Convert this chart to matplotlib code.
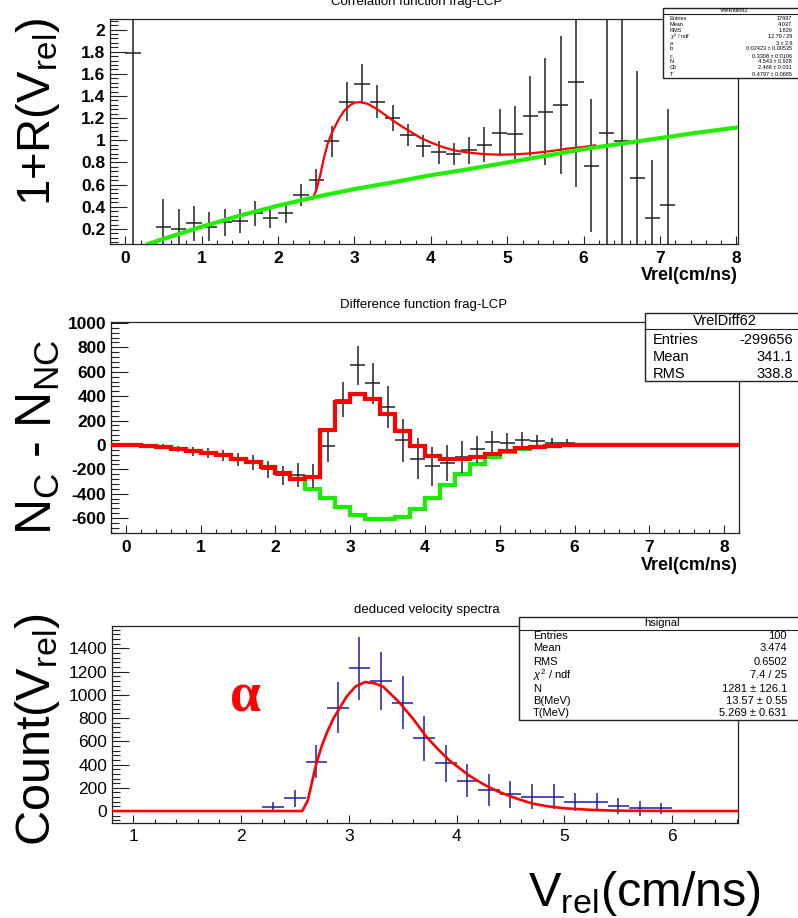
import numpy as np
import matplotlib
matplotlib.use("Agg")
import matplotlib.pyplot as plt
from matplotlib.patches import Rectangle
from matplotlib.lines import Line2D

plt.rcParams['font.family'] = ['Liberation Sans', 'DejaVu Sans']
plt.rcParams['mathtext.fontset'] = 'custom'
plt.rcParams['mathtext.rm'] = 'Liberation Sans'
plt.rcParams['mathtext.it'] = 'Liberation Sans:italic'
plt.rcParams['mathtext.bf'] = 'Liberation Sans:bold'
plt.rcParams['axes.unicode_minus'] = False

# ---- panel 1: correlation function ----
corr_x = [0.1, 0.5, 0.7, 0.9, 1.1, 1.3, 1.5, 1.7, 1.9, 2.1, 2.3, 2.5, 2.7, 2.9, 3.1, 3.3, 3.5,
          3.7, 3.9, 4.1, 4.3, 4.5, 4.7, 4.9, 5.1, 5.3, 5.5, 5.7, 5.9, 6.1, 6.3, 6.5, 6.7, 6.9, 7.1]
corr_y = [1.79, 0.22, 0.20, 0.25, 0.22, 0.26, 0.27, 0.34, 0.30, 0.34, 0.51, 0.64, 0.99, 1.35, 1.51,
          1.35, 1.20, 1.05, 0.95, 0.89, 0.88, 0.91, 0.96, 1.07, 1.06, 1.22, 1.26, 1.32, 1.53, 0.77,
          1.07, 0.99, 0.66, 0.30, 0.42]
corr_err = [2.0, 0.25, 0.18, 0.16, 0.13, 0.12, 0.11, 0.11, 0.09, 0.09, 0.10, 0.10, 0.14, 0.18, 0.18,
            0.15, 0.12, 0.10, 0.10, 0.10, 0.10, 0.12, 0.16, 0.21, 0.25, 0.36, 0.48, 0.62, 0.95, 0.60,
            2.5, 2.5, 0.97, 0.52, 0.86]
bkg_x = [0.3, 0.5, 1.0, 1.5, 2.0, 2.5, 3.0, 3.5, 4.0, 4.5, 5.0, 5.5, 6.0, 6.5, 7.0, 7.5, 8.0]
bkg_y = [0.064, 0.11, 0.22, 0.32, 0.41, 0.49, 0.56, 0.62, 0.685, 0.74, 0.80, 0.86, 0.92, 0.97,
         1.02, 1.07, 1.115]
fit1_x = [2.45, 2.5, 2.55, 2.6, 2.65, 2.7, 2.75, 2.8, 2.87, 2.95, 3.0, 3.08, 3.17, 3.3, 3.4, 3.5,
          3.61, 3.75, 3.87, 4.0, 4.13, 4.3, 4.48, 4.7, 4.92, 5.15, 5.35, 5.6, 5.79, 6.0, 6.15]
fit1_y = [0.47, 0.55, 0.68, 0.84, 0.97, 1.06, 1.13, 1.2, 1.27, 1.32, 1.34, 1.345, 1.33, 1.28, 1.23,
          1.18, 1.13, 1.07, 1.02, 0.98, 0.945, 0.91, 0.89, 0.875, 0.87, 0.875, 0.885, 0.905, 0.925,
          0.94, 0.955]

# ---- panel 2: difference function (0.2 wide bins, -0.2 .. 8.2) ----
diff_centers = np.round(np.arange(-0.1, 8.2, 0.2), 1)
diff_red = [0, 0, -7, -18, -31, -48, -67, -86, -112, -140, -180, -228, -280, -262, 126, 352, 415,
            375, 252, 118, -8, -90, -115, -115, -97, -72, -47, -27, -14, -6, -2,
            0, 0, 0, 0, 0, 0, 0, 0, 0, 0, 0]
diff_green = [0, 0, -7, -18, -31, -48, -67, -86, -112, -140, -180, -228, -280, -358, -439, -508,
              -572, -610, -610, -589, -524, -437, -328, -235, -155, -100, -58, -35, -20, -10, -4,
              0, 0, 0, 0, 0, 0, 0, 0, 0, 0, 0]
diff_x = [0.1, 0.3, 0.5, 0.7, 0.9, 1.1, 1.3, 1.5, 1.7, 1.9, 2.1, 2.3, 2.5, 2.7, 2.9, 3.1, 3.3, 3.5,
          3.7, 3.9, 4.1, 4.3, 4.5, 4.7, 4.9, 5.1, 5.3, 5.5, 5.7, 5.9, 6.1, 6.3, 6.5, 6.7, 6.9,
          7.1, 7.3, 7.5, 7.7, 7.9, 8.1]
diff_y = [0, -3, -12, -34, -53, -67, -88, -121, -146, -200, -249, -243, -254, -12, 369, 654, 505,
          314, 37, -113, -175, -148, -99, -37, 23, 15, 37, 31, 18, 20, -4, 3, 0, 0, 0, 0, 0, 0, 0,
          0, 0]
diff_err = [5, 10, 18, 27, 35, 38, 44, 54, 60, 68, 78, 98, 100, 130, 143, 159, 167, 173, 174, 170,
            160, 147, 133, 112, 95, 80, 68, 48, 35, 25, 12, 6, 3, 3, 3, 3, 3, 3, 3, 3, 3]

# ---- panel 3: deduced velocity spectrum ----
sig_x = [0.9, 1.7, 2.3, 2.5, 2.7, 2.9, 3.1, 3.3, 3.5, 3.7, 3.9, 4.1, 4.3, 4.5, 4.7, 4.9, 5.1, 5.3,
         5.5, 5.7, 5.9, 6.3, 6.5]
sig_y = [0, 0, 37, 109, 425, 889, 1228, 1122, 932, 625, 410, 261, 181, 143, 123, 123, 75, 75, 43,
         23, 23, 0, 0]
sig_err = [0, 0, 40, 72, 143, 218, 272, 250, 230, 193, 158, 140, 135, 118, 109, 109, 77, 77, 66, 63,
           49, 0, 0]
fit3_x = [0.8, 2.57, 2.62, 2.66, 2.70, 2.75, 2.80, 2.86, 2.98, 3.06, 3.15, 3.24, 3.32, 3.47, 3.6,
          3.72, 3.83, 3.93, 4.11, 4.25, 4.39, 4.55, 4.70, 4.85, 5.01, 5.25, 5.48, 6.0, 6.6]
fit3_y = [0, 0, 90, 250, 410, 560, 680, 800, 984, 1070, 1110, 1100, 1070, 935, 790, 640, 530, 439,
          310, 230, 166, 110, 65, 40, 23, 10, 3, 0, 0]

W, H = 798, 918
fig = plt.figure(figsize=(W / 100, H / 100), dpi=100)


def rect(l, t, r, b):
    return [l / W, 1 - b / H, (r - l) / W, (b - t) / H]


def fy(y):
    return 1 - y / H


def style(ax, bold=True):
    for s in ax.spines.values():
        s.set_linewidth(0.9)
        s.set_color('#222222')
    ax.tick_params(which='both', direction='in', top=False, right=False, width=0.8,
                   colors='#222222', labelcolor='black')
    ax.tick_params(axis='y', which='major', length=12, pad=3.5, labelsize=12.5)
    ax.tick_params(axis='y', which='minor', length=6)
    ax.tick_params(axis='x', which='major', length=6, pad=5, labelsize=12.5)
    ax.tick_params(axis='x', which='minor', length=3)
    if bold:
        for lab in ax.get_xticklabels() + ax.get_yticklabels():
            lab.set_fontweight('bold')


def stat_box(x0, y0, x1, y1, head, rows, fs, head_h):
    fig.patches.append(Rectangle((x0 / W, fy(y1)), (x1 - x0) / W, (y1 - y0) / H,
                                 transform=fig.transFigure, facecolor='white',
                                 edgecolor='#222222', linewidth=1.0, zorder=5))
    fig.lines.append(Line2D([x0 / W, x1 / W], [fy(y0 + head_h)] * 2, transform=fig.transFigure,
                            color='#222222', linewidth=0.8, zorder=6))
    fig.text((x0 + x1) / 2 / W, fy(y0 + head_h / 2), head, ha='center', va='center',
             fontsize=fs, zorder=7)
    for name, val, yy, xl, xr in rows:
        fig.text(xl / W, fy(yy), name, ha='left', va='center', fontsize=fs, zorder=7)
        fig.text(xr / W, fy(yy), val, ha='right', va='center', fontsize=fs, zorder=7)


# panel 1
ax1 = fig.add_axes(rect(110, 19, 738, 244))
ax1.errorbar(corr_x, corr_y, xerr=0.1, yerr=corr_err, fmt='none', ecolor='#222222',
             elinewidth=1.1, zorder=2)
ax1.plot(fit1_x, fit1_y, color='#ff0000', lw=1.6, zorder=3)
ax1.plot(bkg_x, bkg_y, color='#22ee00', lw=3.0, zorder=4)
ax1.set_xlim(-0.18, 8.02)
ax1.set_ylim(0.064, 2.095)
ax1.set_xticks(range(0, 9))
ax1.set_xticks(np.arange(-0.2, 8.01, 0.2), minor=True)
ax1.set_yticks([0.2, 0.4, 0.6, 0.8, 1.0, 1.2, 1.4, 1.6, 1.8, 2.0])
ax1.set_yticklabels(['0.2', '0.4', '0.6', '0.8', '1', '1.2', '1.4', '1.6', '1.8', '2'])
ax1.set_yticks(np.arange(0.08, 2.09, 0.04), minor=True)
style(ax1)

# panel 2
ax2 = fig.add_axes(rect(111, 322, 739, 533))
edges = np.append(diff_centers - 0.1, diff_centers[-1] + 0.1)
ax2.stairs(diff_green, edges, color='#1aee00', lw=3.0, zorder=2, baseline=None)
ax2.errorbar(diff_x, diff_y, xerr=0.1, yerr=diff_err, fmt='none', ecolor='#222222',
             elinewidth=1.1, zorder=3)
ax2.stairs(diff_red, edges, color='#ff0000', lw=3.0, zorder=4, baseline=None)
ax2.set_xlim(-0.2, 8.2)
ax2.set_ylim(-722, 1008)
ax2.set_xticks(range(0, 9))
ax2.set_xticks(np.arange(-0.2, 8.21, 0.2), minor=True)
ax2.set_yticks(range(-600, 1001, 200))
ax2.set_yticks(range(-720, 1001, 40), minor=True)
style(ax2)

# panel 3
ax3 = fig.add_axes(rect(112, 626, 738, 823))
ax3.errorbar(sig_x, sig_y, xerr=0.1, yerr=sig_err, fmt='none', ecolor='#1c1ca8',
             elinewidth=1.1, zorder=2)
ax3.plot(fit3_x, fit3_y, color='#ff0000', lw=1.9, zorder=3)
ax3.set_xlim(0.805, 6.61)
ax3.set_ylim(-103, 1593)
ax3.set_xticks(range(1, 7))
ax3.set_xticks(np.arange(1.0, 6.61, 0.2), minor=True)
ax3.set_yticks(range(0, 1401, 200))
ax3.set_yticks(range(-80, 1591, 40), minor=True)
style(ax3, bold=False)
ax3.tick_params(axis='x', which='major', pad=4.5)

# titles and axis labels
fig.text(417 / W, fy(5), 'Correlation function frag-LCP', ha='center', va='baseline', fontsize=9.5)
fig.text(424 / W, fy(305), 'Difference function frag-LCP', ha='center', va='center', fontsize=9.5)
fig.text(427 / W, fy(610), 'deduced velocity spectra', ha='center', va='center', fontsize=9.5)
fig.text(738 / W, fy(276), 'Vrel(cm/ns)', ha='right', va='center', fontsize=13, fontweight='bold')
fig.text(738 / W, fy(565), 'Vrel(cm/ns)', ha='right', va='center', fontsize=13, fontweight='bold')

fig.text(38 / W, fy(112), r'1+R($\mathrm{V_{rel}}$)', rotation=90, ha='center', va='center',
         fontsize=34)
fig.text(38 / W, fy(437), r'$\mathrm{N_{C}}$ - $\mathrm{N_{NC}}$', rotation=90, ha='center',
         va='center', fontsize=36)
fig.text(38 / W, fy(729), r'Count($\mathrm{V_{rel}}$)', rotation=90, ha='center', va='center',
         fontsize=35)
fig.text(528 / W, fy(906), r'$\mathrm{V_{rel}}$(cm/ns)', ha='left', va='baseline', fontsize=35)
fig.text(246 / W, fy(697), 'α', ha='center', va='center', fontsize=40, color='#ff0000',
         fontfamily='Liberation Serif', fontweight='bold')

# stat boxes
stat_box(663, 8, 805, 78, 'VrelRatio62',
         [('Entries', '17697', 18.3, 670, 792), ('Mean', '4.037', 24, 670, 792),
          ('RMS', '1.829', 30, 670, 792), (r'$\chi^{2}$ / ndf', '12.79 / 29', 36.7, 670, 792),
          ('a', '3 ± 2.6', 43.3, 670, 792), ('b', '0.02423 ± 0.00535', 49, 670, 792),
          ('c', '0.3308 ± 0.0106', 56, 670, 792), ('N', '4.543 ± 0.928', 61.7, 670, 792),
          ('Cb', '2.468 ± 0.031', 67.7, 670, 792), ('T', '0.4797 ± 0.0685', 74, 670, 792)],
         4, 6)
stat_box(645, 313, 805, 381, 'VrelDiff62',
         [('Entries', '-299656', 340, 653, 793), ('Mean', '341.1', 357, 653, 793),
          ('RMS', '338.8', 374, 653, 793)],
         10.5, 16)
stat_box(519, 617, 805, 720, 'hsignal',
         [('Entries', '100', 636, 533, 787), ('Mean', '3.474', 648.3, 533, 787),
          ('RMS', '0.6502', 662, 533, 787), (r'$\chi^{2}$ / ndf', '7.4 / 25', 674.7, 533, 787),
          ('N', '1281 ± 126.1', 689.3, 533, 787), ('B(MeV)', '13.57 ± 0.55', 700.7, 533, 787),
          ('T(MeV)', '5.269 ± 0.631', 713.3, 533, 787)],
         8, 12.5)

fig.savefig('out.png', dpi=100)
